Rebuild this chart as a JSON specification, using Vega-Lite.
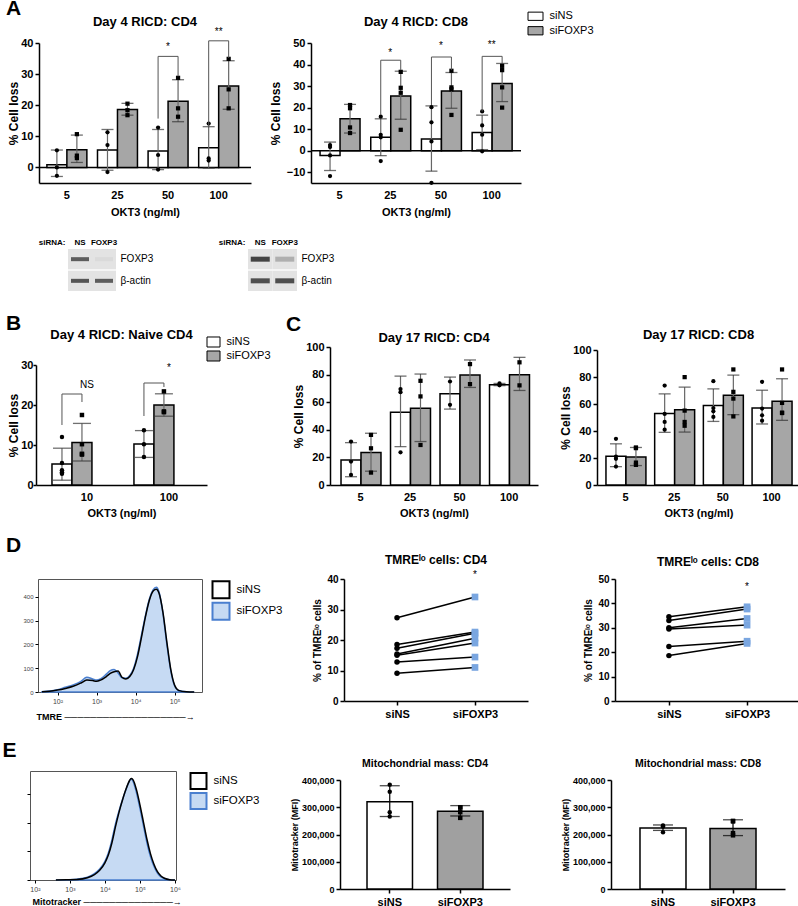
{
"$schema":"https://vega.github.io/schema/vega-lite/v6.json",
"padding":{"left":2,"top":-2,"right":0,"bottom":0},
"autosize":{"type":"pad"},
"config":{
 "font":"Liberation Sans",
 "view":{"stroke":null},
 "axis":{"domainColor":"#000","domainWidth":1.5,"tickColor":"#000","tickWidth":1.5,"tickSize":4,"labelColor":"#000","titleColor":"#000","labelFontWeight":"bold","titleFontWeight":"bold","grid":false,"labelFontSize":11,"titleFontSize":12,"labelOverlap":false},
 "title":{"color":"#000","fontWeight":"bold","fontSize":13,"baseline":"alphabetic"}
},
"datasets":{
"bar":[
{"p":"A4","d":"5","g":"siNS","m":0.9,"lo":-2.9,"hi":5.6},
{"p":"A4","d":"5","g":"siFOXP3","m":5.7,"lo":1.6,"hi":10.4},
{"p":"A4","d":"25","g":"siNS","m":5.6,"lo":-0.9,"hi":12.2},
{"p":"A4","d":"25","g":"siFOXP3","m":18.6,"lo":16.8,"hi":20.6},
{"p":"A4","d":"50","g":"siNS","m":5.3,"lo":-0.7,"hi":12.2},
{"p":"A4","d":"50","g":"siFOXP3","m":21.3,"lo":14.7,"hi":28.2},
{"p":"A4","d":"100","g":"siNS","m":6.3,"lo":-0.2,"hi":13.1},
{"p":"A4","d":"100","g":"siFOXP3","m":26.2,"lo":18.7,"hi":34.3},
{"p":"A8","d":"5","g":"siNS","m":-2.2,"lo":-9.2,"hi":4.0},
{"p":"A8","d":"5","g":"siFOXP3","m":14.8,"lo":8.2,"hi":21.5},
{"p":"A8","d":"25","g":"siNS","m":6.2,"lo":-2.3,"hi":14.8},
{"p":"A8","d":"25","g":"siFOXP3","m":25.4,"lo":14.6,"hi":36.9},
{"p":"A8","d":"50","g":"siNS","m":5.4,"lo":-9.5,"hi":20.8},
{"p":"A8","d":"50","g":"siFOXP3","m":27.7,"lo":19.7,"hi":36.3},
{"p":"A8","d":"100","g":"siNS","m":8.5,"lo":0.5,"hi":16.5},
{"p":"A8","d":"100","g":"siFOXP3","m":31.2,"lo":22.8,"hi":40.5},
{"p":"B","d":"10","g":"siNS","m":5.25,"lo":1.2,"hi":9.2},
{"p":"B","d":"10","g":"siFOXP3","m":10.6,"lo":6.0,"hi":15.4},
{"p":"B","d":"100","g":"siNS","m":10.25,"lo":6.9,"hi":13.6},
{"p":"B","d":"100","g":"siFOXP3","m":20.0,"lo":17.2,"hi":22.8},
{"p":"C4","d":"5","g":"siNS","m":18.2,"lo":6.0,"hi":30.7},
{"p":"C4","d":"5","g":"siFOXP3","m":23.5,"lo":10.0,"hi":37.5},
{"p":"C4","d":"25","g":"siNS","m":52.8,"lo":27.8,"hi":78.9},
{"p":"C4","d":"25","g":"siFOXP3","m":55.7,"lo":31.5,"hi":80.4},
{"p":"C4","d":"50","g":"siNS","m":66.1,"lo":55.0,"hi":78.2},
{"p":"C4","d":"50","g":"siFOXP3","m":79.7,"lo":70.7,"hi":90.6},
{"p":"C4","d":"100","g":"siNS","m":72.6,"lo":72.0,"hi":73.6},
{"p":"C4","d":"100","g":"siFOXP3","m":79.9,"lo":68.5,"hi":92.5},
{"p":"C8","d":"5","g":"siNS","m":21.3,"lo":13.6,"hi":30.5},
{"p":"C8","d":"5","g":"siFOXP3","m":20.8,"lo":14.4,"hi":27.8},
{"p":"C8","d":"25","g":"siNS","m":52.9,"lo":39.0,"hi":67.5},
{"p":"C8","d":"25","g":"siFOXP3","m":55.8,"lo":39.2,"hi":72.5},
{"p":"C8","d":"50","g":"siNS","m":58.8,"lo":47.1,"hi":71.2},
{"p":"C8","d":"50","g":"siFOXP3","m":66.5,"lo":52.1,"hi":81.4},
{"p":"C8","d":"100","g":"siNS","m":57.0,"lo":45.2,"hi":70.2},
{"p":"C8","d":"100","g":"siFOXP3","m":62.0,"lo":47.9,"hi":78.7},
{"p":"E4","g":"siNS","m":320000,"lo":266000,"hi":379000},
{"p":"E4","g":"siFOXP3","m":285000,"lo":268000,"hi":306000},
{"p":"E8","g":"siNS","m":224000,"lo":215000,"hi":235000},
{"p":"E8","g":"siFOXP3","m":222000,"lo":196000,"hi":254000}
],
"pt":[
{"p":"A4","d":"5","g":"siNS","v":5.5},{"p":"A4","d":"5","g":"siNS","v":0.0},{"p":"A4","d":"5","g":"siNS","v":-2.7},
{"p":"A4","d":"5","g":"siFOXP3","v":10.7},{"p":"A4","d":"5","g":"siFOXP3","v":3.0},{"p":"A4","d":"5","g":"siFOXP3","v":3.8},
{"p":"A4","d":"25","g":"siNS","v":11.3},{"p":"A4","d":"25","g":"siNS","v":7.2},{"p":"A4","d":"25","g":"siNS","v":-1.5},
{"p":"A4","d":"25","g":"siFOXP3","v":20.5},{"p":"A4","d":"25","g":"siFOXP3","v":18.4},{"p":"A4","d":"25","g":"siFOXP3","v":16.8},
{"p":"A4","d":"50","g":"siNS","v":12.8},{"p":"A4","d":"50","g":"siNS","v":4.0},{"p":"A4","d":"50","g":"siNS","v":-0.7},
{"p":"A4","d":"50","g":"siFOXP3","v":28.8},{"p":"A4","d":"50","g":"siFOXP3","v":19.0},{"p":"A4","d":"50","g":"siFOXP3","v":16.3},
{"p":"A4","d":"100","g":"siNS","v":14.1},{"p":"A4","d":"100","g":"siNS","v":2.2},{"p":"A4","d":"100","g":"siNS","v":2.9},
{"p":"A4","d":"100","g":"siFOXP3","v":34.9},{"p":"A4","d":"100","g":"siFOXP3","v":25.1},{"p":"A4","d":"100","g":"siFOXP3","v":19.0},
{"p":"A8","d":"5","g":"siNS","v":1.7},{"p":"A8","d":"5","g":"siNS","v":2.6},{"p":"A8","d":"5","g":"siNS","v":-2.2},{"p":"A8","d":"5","g":"siNS","v":-11.8},
{"p":"A8","d":"5","g":"siFOXP3","v":21.2},{"p":"A8","d":"5","g":"siFOXP3","v":19.7},{"p":"A8","d":"5","g":"siFOXP3","v":10.8},{"p":"A8","d":"5","g":"siFOXP3","v":8.2},
{"p":"A8","d":"25","g":"siNS","v":15.8},{"p":"A8","d":"25","g":"siNS","v":7.4},{"p":"A8","d":"25","g":"siNS","v":6.2},{"p":"A8","d":"25","g":"siNS","v":-4.8},
{"p":"A8","d":"25","g":"siFOXP3","v":36.6},{"p":"A8","d":"25","g":"siFOXP3","v":29.2},{"p":"A8","d":"25","g":"siFOXP3","v":26.9},{"p":"A8","d":"25","g":"siFOXP3","v":9.7},
{"p":"A8","d":"50","g":"siNS","v":20.2},{"p":"A8","d":"50","g":"siNS","v":13.2},{"p":"A8","d":"50","g":"siNS","v":4.3},{"p":"A8","d":"50","g":"siNS","v":-14.9},
{"p":"A8","d":"50","g":"siFOXP3","v":37.1},{"p":"A8","d":"50","g":"siFOXP3","v":29.4},{"p":"A8","d":"50","g":"siFOXP3","v":28.5},{"p":"A8","d":"50","g":"siFOXP3","v":16.6},
{"p":"A8","d":"100","g":"siNS","v":18.2},{"p":"A8","d":"100","g":"siNS","v":11.7},{"p":"A8","d":"100","g":"siNS","v":7.4},{"p":"A8","d":"100","g":"siNS","v":-0.3},
{"p":"A8","d":"100","g":"siFOXP3","v":39.4},{"p":"A8","d":"100","g":"siFOXP3","v":37.4},{"p":"A8","d":"100","g":"siFOXP3","v":29.4},{"p":"A8","d":"100","g":"siFOXP3","v":20.0},
{"p":"B","d":"10","g":"siNS","v":12.0},{"p":"B","d":"10","g":"siNS","v":5.5},{"p":"B","d":"10","g":"siNS","v":3.7},{"p":"B","d":"10","g":"siNS","v":2.8},{"p":"B","d":"10","g":"siNS","v":3.2},
{"p":"B","d":"10","g":"siFOXP3","v":17.5},{"p":"B","d":"10","g":"siFOXP3","v":10.2},{"p":"B","d":"10","g":"siFOXP3","v":7.6},{"p":"B","d":"10","g":"siFOXP3","v":7.8},
{"p":"B","d":"100","g":"siNS","v":13.7},{"p":"B","d":"100","g":"siNS","v":10.2},{"p":"B","d":"100","g":"siNS","v":7.0},
{"p":"B","d":"100","g":"siFOXP3","v":23.4},{"p":"B","d":"100","g":"siFOXP3","v":18.2},{"p":"B","d":"100","g":"siFOXP3","v":18.4},
{"p":"C4","d":"5","g":"siNS","v":31.5},{"p":"C4","d":"5","g":"siNS","v":17.0},{"p":"C4","d":"5","g":"siNS","v":7.3},
{"p":"C4","d":"5","g":"siFOXP3","v":36.3},{"p":"C4","d":"5","g":"siFOXP3","v":26.6},{"p":"C4","d":"5","g":"siFOXP3","v":9.0},
{"p":"C4","d":"25","g":"siNS","v":69.5},{"p":"C4","d":"25","g":"siNS","v":67.3},{"p":"C4","d":"25","g":"siNS","v":23.7},
{"p":"C4","d":"25","g":"siFOXP3","v":75.5},{"p":"C4","d":"25","g":"siFOXP3","v":64.2},{"p":"C4","d":"25","g":"siFOXP3","v":29.0},
{"p":"C4","d":"50","g":"siNS","v":75.0},{"p":"C4","d":"50","g":"siNS","v":58.1},
{"p":"C4","d":"50","g":"siFOXP3","v":87.6},{"p":"C4","d":"50","g":"siFOXP3","v":73.1},
{"p":"C4","d":"100","g":"siNS","v":72.2},{"p":"C4","d":"100","g":"siNS","v":73.6},
{"p":"C4","d":"100","g":"siFOXP3","v":88.9},{"p":"C4","d":"100","g":"siFOXP3","v":72.2},
{"p":"C8","d":"5","g":"siNS","v":34.2},{"p":"C8","d":"5","g":"siNS","v":21.1},{"p":"C8","d":"5","g":"siNS","v":19.4},{"p":"C8","d":"5","g":"siNS","v":13.7},
{"p":"C8","d":"5","g":"siFOXP3","v":27.3},{"p":"C8","d":"5","g":"siFOXP3","v":27.8},{"p":"C8","d":"5","g":"siFOXP3","v":16.6},{"p":"C8","d":"5","g":"siFOXP3","v":14.9},
{"p":"C8","d":"25","g":"siNS","v":73.7},{"p":"C8","d":"25","g":"siNS","v":52.6},{"p":"C8","d":"25","g":"siNS","v":46.7},{"p":"C8","d":"25","g":"siNS","v":41.0},
{"p":"C8","d":"25","g":"siFOXP3","v":79.9},{"p":"C8","d":"25","g":"siFOXP3","v":55.1},{"p":"C8","d":"25","g":"siFOXP3","v":46.7},{"p":"C8","d":"25","g":"siFOXP3","v":43.9},
{"p":"C8","d":"50","g":"siNS","v":76.9},{"p":"C8","d":"50","g":"siNS","v":57.0},{"p":"C8","d":"50","g":"siNS","v":54.6},{"p":"C8","d":"50","g":"siNS","v":50.4},
{"p":"C8","d":"50","g":"siFOXP3","v":85.6},{"p":"C8","d":"50","g":"siFOXP3","v":69.0},{"p":"C8","d":"50","g":"siFOXP3","v":64.0},{"p":"C8","d":"50","g":"siFOXP3","v":50.8},
{"p":"C8","d":"100","g":"siNS","v":76.4},{"p":"C8","d":"100","g":"siNS","v":56.6},{"p":"C8","d":"100","g":"siNS","v":51.6},{"p":"C8","d":"100","g":"siNS","v":47.6},
{"p":"C8","d":"100","g":"siFOXP3","v":85.6},{"p":"C8","d":"100","g":"siFOXP3","v":60.8},{"p":"C8","d":"100","g":"siFOXP3","v":53.3},{"p":"C8","d":"100","g":"siFOXP3","v":53.6},
{"p":"E4","g":"siNS","v":383000},{"p":"E4","g":"siNS","v":357000},{"p":"E4","g":"siNS","v":282000},{"p":"E4","g":"siNS","v":266000},
{"p":"E4","g":"siFOXP3","v":300000},{"p":"E4","g":"siFOXP3","v":299000},{"p":"E4","g":"siFOXP3","v":282000},{"p":"E4","g":"siFOXP3","v":261000},
{"p":"E8","g":"siNS","v":233000},{"p":"E8","g":"siNS","v":231000},{"p":"E8","g":"siNS","v":229000},{"p":"E8","g":"siNS","v":208000},
{"p":"E8","g":"siFOXP3","v":250000},{"p":"E8","g":"siFOXP3","v":248000},{"p":"E8","g":"siFOXP3","v":197000},{"p":"E8","g":"siFOXP3","v":205000}
],
"br":[
{"p":"A4","d":"50","g":"siNS","v":15.7,"b":1,"o":1},{"p":"A4","d":"50","g":"siNS","v":35.7,"b":1,"o":2},{"p":"A4","d":"50","g":"siFOXP3","v":35.7,"b":1,"o":3},{"p":"A4","d":"50","g":"siFOXP3","v":29.3,"b":1,"o":4},
{"p":"A4","d":"100","g":"siNS","v":12.9,"b":2,"o":1},{"p":"A4","d":"100","g":"siNS","v":40.7,"b":2,"o":2},{"p":"A4","d":"100","g":"siFOXP3","v":40.7,"b":2,"o":3},{"p":"A4","d":"100","g":"siFOXP3","v":35.2,"b":2,"o":4},
{"p":"A8","d":"25","g":"siNS","v":16.6,"b":3,"o":1},{"p":"A8","d":"25","g":"siNS","v":42.0,"b":3,"o":2},{"p":"A8","d":"25","g":"siFOXP3","v":42.0,"b":3,"o":3},{"p":"A8","d":"25","g":"siFOXP3","v":37.4,"b":3,"o":4},
{"p":"A8","d":"50","g":"siNS","v":21.2,"b":4,"o":1},{"p":"A8","d":"50","g":"siNS","v":43.5,"b":4,"o":2},{"p":"A8","d":"50","g":"siFOXP3","v":43.5,"b":4,"o":3},{"p":"A8","d":"50","g":"siFOXP3","v":37.4,"b":4,"o":4},
{"p":"A8","d":"100","g":"siNS","v":18.2,"b":5,"o":1},{"p":"A8","d":"100","g":"siNS","v":43.8,"b":5,"o":2},{"p":"A8","d":"100","g":"siFOXP3","v":43.8,"b":5,"o":3},{"p":"A8","d":"100","g":"siFOXP3","v":40.5,"b":5,"o":4},
{"p":"B","d":"10","g":"siNS","v":15.0,"b":6,"o":1},{"p":"B","d":"10","g":"siNS","v":22.75,"b":6,"o":2},{"p":"B","d":"10","g":"siFOXP3","v":22.75,"b":6,"o":3},{"p":"B","d":"10","g":"siFOXP3","v":20.75,"b":6,"o":4},
{"p":"B","d":"100","g":"siNS","v":17.25,"b":7,"o":1},{"p":"B","d":"100","g":"siNS","v":25.5,"b":7,"o":2},{"p":"B","d":"100","g":"siFOXP3","v":25.5,"b":7,"o":3},{"p":"B","d":"100","g":"siFOXP3","v":24.5,"b":7,"o":4}
],
"st":[
{"p":"A4","d":"50","v":38.6,"t":"*"},{"p":"A4","d":"100","v":43.4,"t":"**"},
{"p":"A8","d":"25","v":45.5,"t":"*"},{"p":"A8","d":"50","v":48.6,"t":"*"},{"p":"A8","d":"100","v":48.9,"t":"**"},
{"p":"B","d":"10","v":25.0,"t":"NS"},{"p":"B","d":"100","v":29.3,"t":"*"},
{"p":"D4","g":"siFOXP3","v":41.3,"t":"*"},{"p":"D8","g":"siFOXP3","v":46.7,"t":"*"}
],
"pair":[
{"p":"D4","id":1,"g":"siNS","v":27.3},{"p":"D4","id":1,"g":"siFOXP3","v":34.1},
{"p":"D4","id":2,"g":"siNS","v":18.5},{"p":"D4","id":2,"g":"siFOXP3","v":22.6},
{"p":"D4","id":3,"g":"siNS","v":17.3},{"p":"D4","id":3,"g":"siFOXP3","v":22.2},
{"p":"D4","id":4,"g":"siNS","v":15.4},{"p":"D4","id":4,"g":"siFOXP3","v":20.6},
{"p":"D4","id":5,"g":"siNS","v":15.0},{"p":"D4","id":5,"g":"siFOXP3","v":19.0},
{"p":"D4","id":6,"g":"siNS","v":12.8},{"p":"D4","id":6,"g":"siFOXP3","v":14.4},
{"p":"D4","id":7,"g":"siNS","v":9.1},{"p":"D4","id":7,"g":"siFOXP3","v":11.0},
{"p":"D8","id":1,"g":"siNS","v":34.5},{"p":"D8","id":1,"g":"siFOXP3","v":38.6},
{"p":"D8","id":2,"g":"siNS","v":33.0},{"p":"D8","id":2,"g":"siFOXP3","v":37.7},
{"p":"D8","id":3,"g":"siNS","v":30.0},{"p":"D8","id":3,"g":"siFOXP3","v":33.8},
{"p":"D8","id":4,"g":"siNS","v":29.5},{"p":"D8","id":4,"g":"siFOXP3","v":31.1},
{"p":"D8","id":5,"g":"siNS","v":22.3},{"p":"D8","id":5,"g":"siFOXP3","v":24.5},
{"p":"D8","id":6,"g":"siNS","v":18.6},{"p":"D8","id":6,"g":"siFOXP3","v":23.6}
],
"leg":[{"g":"siNS"},{"g":"siFOXP3"}],
"hist":[
{"p":"D","g":"siFOXP3","x":40,"y":1},{"p":"D","g":"siFOXP3","x":63,"y":4},{"p":"D","g":"siFOXP3","x":100,"y":10},{"p":"D","g":"siFOXP3","x":158,"y":20},{"p":"D","g":"siFOXP3","x":251,"y":30},{"p":"D","g":"siFOXP3","x":398,"y":45},{"p":"D","g":"siFOXP3","x":562,"y":62},{"p":"D","g":"siFOXP3","x":794,"y":55},{"p":"D","g":"siFOXP3","x":1000,"y":50},{"p":"D","g":"siFOXP3","x":1259,"y":55},{"p":"D","g":"siFOXP3","x":1778,"y":75},{"p":"D","g":"siFOXP3","x":2239,"y":90},{"p":"D","g":"siFOXP3","x":2818,"y":95},{"p":"D","g":"siFOXP3","x":3548,"y":80},{"p":"D","g":"siFOXP3","x":4467,"y":60},{"p":"D","g":"siFOXP3","x":5623,"y":58},{"p":"D","g":"siFOXP3","x":7079,"y":70},{"p":"D","g":"siFOXP3","x":8913,"y":100},{"p":"D","g":"siFOXP3","x":11220,"y":160},{"p":"D","g":"siFOXP3","x":14125,"y":240},{"p":"D","g":"siFOXP3","x":17783,"y":320},{"p":"D","g":"siFOXP3","x":22387,"y":390},{"p":"D","g":"siFOXP3","x":28184,"y":430},{"p":"D","g":"siFOXP3","x":33884,"y":440},{"p":"D","g":"siFOXP3","x":39811,"y":420},{"p":"D","g":"siFOXP3","x":50119,"y":330},{"p":"D","g":"siFOXP3","x":63096,"y":200},{"p":"D","g":"siFOXP3","x":79433,"y":90},{"p":"D","g":"siFOXP3","x":100000,"y":25},{"p":"D","g":"siFOXP3","x":125893,"y":6},{"p":"D","g":"siFOXP3","x":199526,"y":1},{"p":"D","g":"siFOXP3","x":316228,"y":0},
{"p":"D","g":"siNS","x":40,"y":1},{"p":"D","g":"siNS","x":63,"y":3},{"p":"D","g":"siNS","x":100,"y":8},{"p":"D","g":"siNS","x":158,"y":15},{"p":"D","g":"siNS","x":251,"y":24},{"p":"D","g":"siNS","x":398,"y":38},{"p":"D","g":"siNS","x":562,"y":50},{"p":"D","g":"siNS","x":794,"y":48},{"p":"D","g":"siNS","x":1000,"y":45},{"p":"D","g":"siNS","x":1259,"y":50},{"p":"D","g":"siNS","x":1778,"y":65},{"p":"D","g":"siNS","x":2239,"y":78},{"p":"D","g":"siNS","x":2818,"y":85},{"p":"D","g":"siNS","x":3548,"y":88},{"p":"D","g":"siNS","x":4467,"y":62},{"p":"D","g":"siNS","x":5623,"y":55},{"p":"D","g":"siNS","x":7079,"y":65},{"p":"D","g":"siNS","x":8913,"y":95},{"p":"D","g":"siNS","x":11220,"y":150},{"p":"D","g":"siNS","x":14125,"y":230},{"p":"D","g":"siNS","x":17783,"y":315},{"p":"D","g":"siNS","x":22387,"y":385},{"p":"D","g":"siNS","x":28184,"y":425},{"p":"D","g":"siNS","x":33884,"y":432},{"p":"D","g":"siNS","x":39811,"y":415},{"p":"D","g":"siNS","x":50119,"y":335},{"p":"D","g":"siNS","x":63096,"y":210},{"p":"D","g":"siNS","x":79433,"y":95},{"p":"D","g":"siNS","x":100000,"y":28},{"p":"D","g":"siNS","x":125893,"y":7},{"p":"D","g":"siNS","x":199526,"y":1},{"p":"D","g":"siNS","x":316228,"y":0},
{"p":"E","g":"siFOXP3","x":398,"y":0},{"p":"E","g":"siFOXP3","x":794,"y":1},{"p":"E","g":"siFOXP3","x":1585,"y":3},{"p":"E","g":"siFOXP3","x":3162,"y":10},{"p":"E","g":"siFOXP3","x":5012,"y":22},{"p":"E","g":"siFOXP3","x":7079,"y":38},{"p":"E","g":"siFOXP3","x":10000,"y":65},{"p":"E","g":"siFOXP3","x":12589,"y":95},{"p":"E","g":"siFOXP3","x":15849,"y":140},{"p":"E","g":"siFOXP3","x":19953,"y":195},{"p":"E","g":"siFOXP3","x":25119,"y":240},{"p":"E","g":"siFOXP3","x":31623,"y":280},{"p":"E","g":"siFOXP3","x":39811,"y":315},{"p":"E","g":"siFOXP3","x":50119,"y":345},{"p":"E","g":"siFOXP3","x":56234,"y":352},{"p":"E","g":"siFOXP3","x":63096,"y":345},{"p":"E","g":"siFOXP3","x":79433,"y":305},{"p":"E","g":"siFOXP3","x":100000,"y":250},{"p":"E","g":"siFOXP3","x":125893,"y":190},{"p":"E","g":"siFOXP3","x":158489,"y":130},{"p":"E","g":"siFOXP3","x":199526,"y":82},{"p":"E","g":"siFOXP3","x":251189,"y":48},{"p":"E","g":"siFOXP3","x":316228,"y":24},{"p":"E","g":"siFOXP3","x":398107,"y":11},{"p":"E","g":"siFOXP3","x":501187,"y":5},{"p":"E","g":"siFOXP3","x":707946,"y":1},{"p":"E","g":"siFOXP3","x":1000000,"y":0},
{"p":"E","g":"siNS","x":398,"y":0},{"p":"E","g":"siNS","x":794,"y":1},{"p":"E","g":"siNS","x":1585,"y":2},{"p":"E","g":"siNS","x":3162,"y":8},{"p":"E","g":"siNS","x":5012,"y":19},{"p":"E","g":"siNS","x":7079,"y":34},{"p":"E","g":"siNS","x":10000,"y":60},{"p":"E","g":"siNS","x":12589,"y":88},{"p":"E","g":"siNS","x":15849,"y":130},{"p":"E","g":"siNS","x":19953,"y":185},{"p":"E","g":"siNS","x":25119,"y":235},{"p":"E","g":"siNS","x":31623,"y":278},{"p":"E","g":"siNS","x":39811,"y":316},{"p":"E","g":"siNS","x":50119,"y":346},{"p":"E","g":"siNS","x":56234,"y":354},{"p":"E","g":"siNS","x":63096,"y":350},{"p":"E","g":"siNS","x":79433,"y":315},{"p":"E","g":"siNS","x":100000,"y":262},{"p":"E","g":"siNS","x":125893,"y":202},{"p":"E","g":"siNS","x":158489,"y":142},{"p":"E","g":"siNS","x":199526,"y":92},{"p":"E","g":"siNS","x":251189,"y":55},{"p":"E","g":"siNS","x":316228,"y":29},{"p":"E","g":"siNS","x":398107,"y":14},{"p":"E","g":"siNS","x":501187,"y":6},{"p":"E","g":"siNS","x":707946,"y":1},{"p":"E","g":"siNS","x":1000000,"y":0}
],
"blot":[
{"b":1,"lane":"NS","prot":"FOXP3","i":0.85},{"b":1,"lane":"FOXP3","prot":"FOXP3","i":0.05},
{"b":1,"lane":"NS","prot":"β-actin","i":0.9},{"b":1,"lane":"FOXP3","prot":"β-actin","i":0.85},
{"b":2,"lane":"NS","prot":"FOXP3","i":1.0},{"b":2,"lane":"FOXP3","prot":"FOXP3","i":0.3},
{"b":2,"lane":"NS","prot":"β-actin","i":0.95},{"b":2,"lane":"FOXP3","prot":"β-actin","i":0.95}
]
},
"resolve":{"scale":{"fill":"independent","stroke":"independent","shape":"independent","color":"independent"}},
"concat":[
{"resolve":{"scale":{"fill":"independent","stroke":"independent","shape":"independent","color":"independent"}},
 "concat":[
 {"width":9,"height":229,"data":{"values":[]},"mark":{"type":"point","opacity":0},"title":{"text":"A","anchor":"start","dx":-24,"fontSize":21,"offset":-10}},
 {"width":212,"height":174,"title":{"text":"Day 4 RICD: CD4","offset":-20},
  "layer":[
   {"data":{"values":[{}]},"mark":{"type":"rule","color":"#000","strokeWidth":1.5},"encoding":{"y":{"datum":0,"type":"quantitative","title":"% Cell loss"}}},
   {"data":{"name":"bar"},"transform":[{"filter":"datum.p==='A4'"}],"mark":{"type":"bar","stroke":"#000","strokeWidth":1.5},
    "encoding":{"x":{"field":"d","type":"nominal","title":"OKT3 (ng/ml)","scale":{"domain":["5","25","50","100"],"paddingInner":0.21,"paddingOuter":0.2,"align":0.39},"axis":{"ticks":false,"labelAngle":0,"labelPadding":6,"titlePadding":6,"titleFontSize":11}},
     "xOffset":{"field":"g","type":"nominal","scale":{"domain":["siNS","siFOXP3"],"paddingInner":0,"paddingOuter":0}},
     "y":{"field":"m","type":"quantitative","title":"% Cell loss","scale":{"domain":[-5,40],"range":[174,34],"nice":false},"axis":{"values":[0,10,20,30,40],"tickCount":20,"labelOverlap":false,"titlePadding":0}},
     "fill":{"field":"g","type":"nominal","scale":{"domain":["siNS","siFOXP3"],"range":["#ffffff","#a6a6a6"]},"legend":null}}},
   {"data":{"name":"bar"},"transform":[{"filter":"datum.p==='A4'"}],"mark":{"type":"rule","color":"#666","strokeWidth":1.2},
    "encoding":{"x":{"field":"d","type":"nominal","title":"OKT3 (ng/ml)"},"xOffset":{"field":"g","type":"nominal"},"y":{"field":"lo","type":"quantitative","title":"% Cell loss"},"y2":{"field":"hi"}}},
   {"data":{"name":"bar"},"transform":[{"filter":"datum.p==='A4'"}],"mark":{"type":"tick","color":"#333","thickness":1.3,"size":12,"orient":"horizontal"},
    "encoding":{"x":{"field":"d","type":"nominal","title":"OKT3 (ng/ml)"},"xOffset":{"field":"g","type":"nominal"},"y":{"field":"lo","type":"quantitative","title":"% Cell loss"}}},
   {"data":{"name":"bar"},"transform":[{"filter":"datum.p==='A4'"}],"mark":{"type":"tick","color":"#333","thickness":1.3,"size":12,"orient":"horizontal"},
    "encoding":{"x":{"field":"d","type":"nominal","title":"OKT3 (ng/ml)"},"xOffset":{"field":"g","type":"nominal"},"y":{"field":"hi","type":"quantitative","title":"% Cell loss"}}},
   {"data":{"name":"pt"},"transform":[{"filter":"datum.p==='A4'"}],"mark":{"type":"point","filled":true,"color":"#000","size":18,"opacity":1},
    "encoding":{"x":{"field":"d","type":"nominal","title":"OKT3 (ng/ml)"},"xOffset":{"field":"g","type":"nominal"},"y":{"field":"v","type":"quantitative","title":"% Cell loss"},"shape":{"field":"g","type":"nominal","scale":{"domain":["siNS","siFOXP3"],"range":["circle","square"]},"legend":null}}},
   {"data":{"name":"br"},"transform":[{"filter":"datum.p==='A4'"}],"mark":{"type":"line","color":"#555","strokeWidth":1},
    "encoding":{"x":{"field":"d","type":"nominal","title":"OKT3 (ng/ml)"},"xOffset":{"field":"g","type":"nominal"},"y":{"field":"v","type":"quantitative","title":"% Cell loss"},"detail":{"field":"b","type":"nominal"},"order":{"field":"o","type":"quantitative"}}},
   {"data":{"name":"st"},"transform":[{"filter":"datum.p==='A4'"}],"mark":{"type":"text","fontSize":10,"color":"#000"},
    "encoding":{"x":{"field":"d","type":"nominal","title":"OKT3 (ng/ml)"},"y":{"field":"v","type":"quantitative","title":"% Cell loss"},"text":{"field":"t","type":"nominal"}}}
  ]},
 {"width":60,"height":1,"data":{"values":[]},"mark":{"type":"point","opacity":0}},
 {"width":210,"height":174,"title":{"text":"Day 4 RICD: CD8","offset":-19.5},
  "layer":[
   {"data":{"values":[{}]},"mark":{"type":"rule","color":"#000","strokeWidth":1.5},"encoding":{"y":{"datum":0,"type":"quantitative","title":"% Cell loss"}}},
   {"data":{"name":"bar"},"transform":[{"filter":"datum.p==='A8'"}],"mark":{"type":"bar","stroke":"#000","strokeWidth":1.5},
    "encoding":{"x":{"field":"d","type":"nominal","title":"OKT3 (ng/ml)","scale":{"domain":["5","25","50","100"],"paddingInner":0.23,"paddingOuter":0.186,"align":0.48},"axis":{"ticks":false,"labelAngle":0,"labelPadding":6,"titlePadding":6,"titleFontSize":11}},
     "xOffset":{"field":"g","type":"nominal","scale":{"domain":["siNS","siFOXP3"],"paddingInner":0,"paddingOuter":0}},
     "y":{"field":"m","type":"quantitative","title":"% Cell loss","scale":{"domain":[-15,50],"range":[174,34],"nice":false},"axis":{"values":[-10,0,10,20,30,40,50],"tickCount":20,"labelOverlap":false}},
     "fill":{"field":"g","type":"nominal","scale":{"domain":["siNS","siFOXP3"],"range":["#ffffff","#a6a6a6"]},"legend":null}}},
   {"data":{"name":"bar"},"transform":[{"filter":"datum.p==='A8'"}],"mark":{"type":"rule","color":"#666","strokeWidth":1.2},
    "encoding":{"x":{"field":"d","type":"nominal","title":"OKT3 (ng/ml)"},"xOffset":{"field":"g","type":"nominal"},"y":{"field":"lo","type":"quantitative","title":"% Cell loss"},"y2":{"field":"hi"}}},
   {"data":{"name":"bar"},"transform":[{"filter":"datum.p==='A8'"}],"mark":{"type":"tick","color":"#333","thickness":1.3,"size":12,"orient":"horizontal"},
    "encoding":{"x":{"field":"d","type":"nominal","title":"OKT3 (ng/ml)"},"xOffset":{"field":"g","type":"nominal"},"y":{"field":"lo","type":"quantitative","title":"% Cell loss"}}},
   {"data":{"name":"bar"},"transform":[{"filter":"datum.p==='A8'"}],"mark":{"type":"tick","color":"#333","thickness":1.3,"size":12,"orient":"horizontal"},
    "encoding":{"x":{"field":"d","type":"nominal","title":"OKT3 (ng/ml)"},"xOffset":{"field":"g","type":"nominal"},"y":{"field":"hi","type":"quantitative","title":"% Cell loss"}}},
   {"data":{"name":"pt"},"transform":[{"filter":"datum.p==='A8'"}],"mark":{"type":"point","filled":true,"color":"#000","size":18,"opacity":1},
    "encoding":{"x":{"field":"d","type":"nominal","title":"OKT3 (ng/ml)"},"xOffset":{"field":"g","type":"nominal"},"y":{"field":"v","type":"quantitative","title":"% Cell loss"},"shape":{"field":"g","type":"nominal","scale":{"domain":["siNS","siFOXP3"],"range":["circle","square"]},"legend":null}}},
   {"data":{"name":"br"},"transform":[{"filter":"datum.p==='A8'"}],"mark":{"type":"line","color":"#555","strokeWidth":1},
    "encoding":{"x":{"field":"d","type":"nominal","title":"OKT3 (ng/ml)"},"xOffset":{"field":"g","type":"nominal"},"y":{"field":"v","type":"quantitative","title":"% Cell loss"},"detail":{"field":"b","type":"nominal"},"order":{"field":"o","type":"quantitative"}}},
   {"data":{"name":"st"},"transform":[{"filter":"datum.p==='A8'"}],"mark":{"type":"text","fontSize":10,"color":"#000"},
    "encoding":{"x":{"field":"d","type":"nominal","title":"OKT3 (ng/ml)"},"y":{"field":"v","type":"quantitative","title":"% Cell loss"},"text":{"field":"t","type":"nominal"}}}
  ]},
 {"width":7,"height":1,"data":{"values":[]},"mark":{"type":"point","opacity":0}},
 {"width":15,"height":29,"data":{"name":"leg"},"mark":{"type":"point","shape":"M-1,-0.55H1V0.55H-1Z","size":225,"stroke":"#000","strokeWidth":1,"filled":true,"opacity":1},
  "encoding":{"y":{"field":"g","type":"nominal","scale":{"type":"band","domain":["siNS","siFOXP3"],"paddingInner":0,"paddingOuter":0},"axis":{"orient":"right","title":null,"domain":false,"ticks":false,"labelPadding":6,"labelFontWeight":"normal","labelFontSize":11}},
   "fill":{"field":"g","type":"nominal","scale":{"domain":["siNS","siFOXP3"],"range":["#ffffff","#a6a6a6"]},"legend":null}}}
],"columns":6,"spacing":0,"bounds":"flush","align":"each"},
{"concat":[
 {"width":38,"height":64,"data":{"values":[]},"mark":{"type":"point","opacity":0}},
 {"width":48,"height":42,"data":{"name":"blot"},"transform":[{"filter":"datum.b===1"}],
  "encoding":{"x":{"field":"lane","type":"nominal","title":"siRNA:","scale":{"domain":["NS","FOXP3"],"paddingInner":0,"paddingOuter":0},"axis":{"orient":"top","domain":false,"ticks":false,"labelAngle":0,"labelFontSize":8,"labelPadding":3,"titleFontSize":8,"titleX":-3,"titleY":-5,"titleAlign":"right","titleBaseline":"alphabetic"}},
   "y":{"field":"prot","type":"nominal","title":null,"scale":{"domain":["FOXP3","β-actin"],"paddingInner":0.06,"paddingOuter":0},"axis":{"orient":"right","domain":false,"ticks":false,"labelFontSize":10,"labelFontWeight":"normal","labelPadding":4}}},
  "layer":[
   {"mark":{"type":"rect","color":"#e3e3e3"}},
   {"mark":{"type":"tick","orient":"horizontal","thickness":4,"size":18},"encoding":{"color":{"field":"i","type":"quantitative","scale":{"domain":[0,1],"range":["#e3e3e3","#000000"]},"legend":null}}}
  ]},
 {"width":132,"height":1,"data":{"values":[]},"mark":{"type":"point","opacity":0}},
 {"width":49,"height":42,"data":{"name":"blot"},"transform":[{"filter":"datum.b===2"}],
  "encoding":{"x":{"field":"lane","type":"nominal","title":"siRNA:","scale":{"domain":["NS","FOXP3"],"paddingInner":0,"paddingOuter":0},"axis":{"orient":"top","domain":false,"ticks":false,"labelAngle":0,"labelFontSize":8,"labelPadding":3,"titleFontSize":8,"titleX":-3,"titleY":-5,"titleAlign":"right","titleBaseline":"alphabetic"}},
   "y":{"field":"prot","type":"nominal","title":null,"scale":{"domain":["FOXP3","β-actin"],"paddingInner":0.06,"paddingOuter":0},"axis":{"orient":"right","domain":false,"ticks":false,"labelFontSize":10,"labelFontWeight":"normal","labelPadding":4}}},
  "layer":[
   {"mark":{"type":"rect","color":"#e3e3e3"}},
   {"mark":{"type":"tick","orient":"horizontal","thickness":5,"size":19},"encoding":{"color":{"field":"i","type":"quantitative","scale":{"domain":[0,1],"range":["#e3e3e3","#000000"]},"legend":null}}}
  ]}
],"columns":4,"spacing":0,"bounds":"flush","align":"each"},
{"resolve":{"scale":{"fill":"independent","stroke":"independent","shape":"independent","color":"independent"}},
 "concat":[
 {"width":6,"height":200,"data":{"values":[]},"mark":{"type":"point","opacity":0},"title":{"text":"B","anchor":"start","dx":-24,"fontSize":21,"offset":1}},
 {"width":171,"height":150,"title":{"text":"Day 4 RICD: Naive CD4","offset":-6.5},
  "layer":[
   {"data":{"name":"bar"},"transform":[{"filter":"datum.p==='B'"}],"mark":{"type":"bar","stroke":"#000","strokeWidth":1.5},
    "encoding":{"x":{"field":"d","type":"nominal","title":"OKT3 (ng/ml)","scale":{"domain":["10","100"],"paddingInner":0.146,"paddingOuter":0.116,"align":0.84},"axis":{"ticks":false,"labelAngle":0,"labelPadding":6,"titlePadding":5,"titleFontSize":11}},
     "xOffset":{"field":"g","type":"nominal","scale":{"domain":["siNS","siFOXP3"],"paddingInner":0,"paddingOuter":0}},
     "y":{"field":"m","type":"quantitative","title":"% Cell loss","scale":{"domain":[0,30],"range":[150,30],"nice":false},"axis":{"values":[0,10,20,30],"tickCount":20,"labelOverlap":false,"titlePadding":0,"labelPadding":0,"tickSize":3}},
     "fill":{"field":"g","type":"nominal","scale":{"domain":["siNS","siFOXP3"],"range":["#ffffff","#a6a6a6"]},"legend":null}}},
   {"data":{"name":"bar"},"transform":[{"filter":"datum.p==='B'"}],"mark":{"type":"rule","color":"#666","strokeWidth":1.2},
    "encoding":{"x":{"field":"d","type":"nominal","title":"OKT3 (ng/ml)"},"xOffset":{"field":"g","type":"nominal"},"y":{"field":"lo","type":"quantitative","title":"% Cell loss"},"y2":{"field":"hi"}}},
   {"data":{"name":"bar"},"transform":[{"filter":"datum.p==='B'"}],"mark":{"type":"tick","color":"#333","thickness":1.3,"size":18,"orient":"horizontal"},
    "encoding":{"x":{"field":"d","type":"nominal","title":"OKT3 (ng/ml)"},"xOffset":{"field":"g","type":"nominal"},"y":{"field":"lo","type":"quantitative","title":"% Cell loss"}}},
   {"data":{"name":"bar"},"transform":[{"filter":"datum.p==='B'"}],"mark":{"type":"tick","color":"#333","thickness":1.3,"size":18,"orient":"horizontal"},
    "encoding":{"x":{"field":"d","type":"nominal","title":"OKT3 (ng/ml)"},"xOffset":{"field":"g","type":"nominal"},"y":{"field":"hi","type":"quantitative","title":"% Cell loss"}}},
   {"data":{"name":"pt"},"transform":[{"filter":"datum.p==='B'"}],"mark":{"type":"point","filled":true,"color":"#000","size":20,"opacity":1},
    "encoding":{"x":{"field":"d","type":"nominal","title":"OKT3 (ng/ml)"},"xOffset":{"field":"g","type":"nominal"},"y":{"field":"v","type":"quantitative","title":"% Cell loss"},"shape":{"field":"g","type":"nominal","scale":{"domain":["siNS","siFOXP3"],"range":["circle","square"]},"legend":null}}},
   {"data":{"name":"br"},"transform":[{"filter":"datum.p==='B'"}],"mark":{"type":"line","color":"#555","strokeWidth":1},
    "encoding":{"x":{"field":"d","type":"nominal","title":"OKT3 (ng/ml)"},"xOffset":{"field":"g","type":"nominal"},"y":{"field":"v","type":"quantitative","title":"% Cell loss"},"detail":{"field":"b","type":"nominal"},"order":{"field":"o","type":"quantitative"}}},
   {"data":{"name":"st"},"transform":[{"filter":"datum.p==='B'"}],"mark":{"type":"text","fontSize":10,"color":"#000"},
    "encoding":{"x":{"field":"d","type":"nominal","title":"OKT3 (ng/ml)"},"y":{"field":"v","type":"quantitative","title":"% Cell loss"},"text":{"field":"t","type":"nominal"}}}
  ]},
 {"width":13,"height":28,"data":{"name":"leg"},"mark":{"type":"point","shape":"M-1,-0.77H1V0.77H-1Z","size":169,"stroke":"#000","strokeWidth":1,"filled":true,"opacity":1},
  "encoding":{"y":{"field":"g","type":"nominal","scale":{"type":"band","domain":["siNS","siFOXP3"],"paddingInner":0,"paddingOuter":0},"axis":{"orient":"right","title":null,"domain":false,"ticks":false,"labelPadding":6,"labelFontWeight":"normal","labelFontSize":11}},
   "fill":{"field":"g","type":"nominal","scale":{"domain":["siNS","siFOXP3"],"range":["#ffffff","#a6a6a6"]},"legend":null}}},
 {"width":110,"height":1,"data":{"values":[]},"mark":{"type":"point","opacity":0},"title":{"text":"C","anchor":"start","dx":66,"fontSize":21,"offset":0}},
 {"width":208,"height":150,"title":{"text":"Day 17 RICD: CD4","offset":-9.5},
  "layer":[
   {"data":{"name":"bar"},"transform":[{"filter":"datum.p==='C4'"}],"mark":{"type":"bar","stroke":"#000","strokeWidth":1.5},
    "encoding":{"x":{"field":"d","type":"nominal","title":"OKT3 (ng/ml)","scale":{"domain":["5","25","50","100"],"paddingInner":0.21,"paddingOuter":0.206,"align":0.54},"axis":{"ticks":false,"labelAngle":0,"labelPadding":6,"titlePadding":5,"titleFontSize":11}},
     "xOffset":{"field":"g","type":"nominal","scale":{"domain":["siNS","siFOXP3"],"paddingInner":0,"paddingOuter":0}},
     "y":{"field":"m","type":"quantitative","title":"% Cell loss","scale":{"domain":[0,100],"range":[150,12],"nice":false},"axis":{"values":[0,20,40,60,80,100],"tickCount":20,"labelOverlap":false,"titlePadding":0}},
     "fill":{"field":"g","type":"nominal","scale":{"domain":["siNS","siFOXP3"],"range":["#ffffff","#a6a6a6"]},"legend":null}}},
   {"data":{"name":"bar"},"transform":[{"filter":"datum.p==='C4'"}],"mark":{"type":"rule","color":"#666","strokeWidth":1.2},
    "encoding":{"x":{"field":"d","type":"nominal","title":"OKT3 (ng/ml)"},"xOffset":{"field":"g","type":"nominal"},"y":{"field":"lo","type":"quantitative","title":"% Cell loss"},"y2":{"field":"hi"}}},
   {"data":{"name":"bar"},"transform":[{"filter":"datum.p==='C4'"}],"mark":{"type":"tick","color":"#333","thickness":1.3,"size":12,"orient":"horizontal"},
    "encoding":{"x":{"field":"d","type":"nominal","title":"OKT3 (ng/ml)"},"xOffset":{"field":"g","type":"nominal"},"y":{"field":"lo","type":"quantitative","title":"% Cell loss"}}},
   {"data":{"name":"bar"},"transform":[{"filter":"datum.p==='C4'"}],"mark":{"type":"tick","color":"#333","thickness":1.3,"size":12,"orient":"horizontal"},
    "encoding":{"x":{"field":"d","type":"nominal","title":"OKT3 (ng/ml)"},"xOffset":{"field":"g","type":"nominal"},"y":{"field":"hi","type":"quantitative","title":"% Cell loss"}}},
   {"data":{"name":"pt"},"transform":[{"filter":"datum.p==='C4'"}],"mark":{"type":"point","filled":true,"color":"#000","size":18,"opacity":1},
    "encoding":{"x":{"field":"d","type":"nominal","title":"OKT3 (ng/ml)"},"xOffset":{"field":"g","type":"nominal"},"y":{"field":"v","type":"quantitative","title":"% Cell loss"},"shape":{"field":"g","type":"nominal","scale":{"domain":["siNS","siFOXP3"],"range":["circle","square"]},"legend":null}}}
  ]},
 {"width":59,"height":1,"data":{"values":[]},"mark":{"type":"point","opacity":0}},
 {"width":203,"height":150,"title":{"text":"Day 17 RICD: CD8","offset":-6.5},
  "layer":[
   {"data":{"name":"bar"},"transform":[{"filter":"datum.p==='C8'"}],"mark":{"type":"bar","stroke":"#000","strokeWidth":1.5},
    "encoding":{"x":{"field":"d","type":"nominal","title":"OKT3 (ng/ml)","scale":{"domain":["5","25","50","100"],"paddingInner":0.2,"paddingOuter":0.184,"align":0.5},"axis":{"ticks":false,"labelAngle":0,"labelPadding":6,"titlePadding":5,"titleFontSize":11}},
     "xOffset":{"field":"g","type":"nominal","scale":{"domain":["siNS","siFOXP3"],"paddingInner":0,"paddingOuter":0}},
     "y":{"field":"m","type":"quantitative","title":"% Cell loss","scale":{"domain":[0,100],"range":[150,15],"nice":false},"axis":{"values":[0,20,40,60,80,100],"tickCount":20,"labelOverlap":false,"titlePadding":0}},
     "fill":{"field":"g","type":"nominal","scale":{"domain":["siNS","siFOXP3"],"range":["#ffffff","#a6a6a6"]},"legend":null}}},
   {"data":{"name":"bar"},"transform":[{"filter":"datum.p==='C8'"}],"mark":{"type":"rule","color":"#666","strokeWidth":1.2},
    "encoding":{"x":{"field":"d","type":"nominal","title":"OKT3 (ng/ml)"},"xOffset":{"field":"g","type":"nominal"},"y":{"field":"lo","type":"quantitative","title":"% Cell loss"},"y2":{"field":"hi"}}},
   {"data":{"name":"bar"},"transform":[{"filter":"datum.p==='C8'"}],"mark":{"type":"tick","color":"#333","thickness":1.3,"size":12,"orient":"horizontal"},
    "encoding":{"x":{"field":"d","type":"nominal","title":"OKT3 (ng/ml)"},"xOffset":{"field":"g","type":"nominal"},"y":{"field":"lo","type":"quantitative","title":"% Cell loss"}}},
   {"data":{"name":"bar"},"transform":[{"filter":"datum.p==='C8'"}],"mark":{"type":"tick","color":"#333","thickness":1.3,"size":12,"orient":"horizontal"},
    "encoding":{"x":{"field":"d","type":"nominal","title":"OKT3 (ng/ml)"},"xOffset":{"field":"g","type":"nominal"},"y":{"field":"hi","type":"quantitative","title":"% Cell loss"}}},
   {"data":{"name":"pt"},"transform":[{"filter":"datum.p==='C8'"}],"mark":{"type":"point","filled":true,"color":"#000","size":18,"opacity":1},
    "encoding":{"x":{"field":"d","type":"nominal","title":"OKT3 (ng/ml)"},"xOffset":{"field":"g","type":"nominal"},"y":{"field":"v","type":"quantitative","title":"% Cell loss"},"shape":{"field":"g","type":"nominal","scale":{"domain":["siNS","siFOXP3"],"range":["circle","square"]},"legend":null}}}
  ]}
],"columns":7,"spacing":0,"bounds":"flush","align":"each"},
{"resolve":{"scale":{"fill":"independent","stroke":"independent","shape":"independent","color":"independent"}},
 "concat":[
 {"width":8,"height":160,"data":{"values":[]},"mark":{"type":"point","opacity":0},"title":{"text":"D","anchor":"start","dx":-24,"fontSize":21,"offset":23}},
 {"width":164,"height":113,"view":{"stroke":"#555","strokeWidth":1},
  "encoding":{"x":{"field":"x","type":"quantitative","title":"TMRE   ───────────────────→","scale":{"type":"log","domain":[31.6,501187],"nice":false},"axis":{"values":[100,1000,10000,100000],"tickCount":20,"labelExpr":"'10' + ['⁰','¹','²','³','⁴','⁵','⁶'][round(log(datum.value)/LN10)]","labelFontSize":7,"labelFontWeight":"normal","labelColor":"#444","tickSize":3,"tickWidth":1,"domain":false,"titleFontSize":9,"titleAnchor":"start","titleAlign":"left","titleX":-2,"titleY":27,"titleBaseline":"alphabetic"}},
   "y":{"field":"y","type":"quantitative","title":null,"scale":{"domain":[0,475],"nice":false},"axis":{"values":[0,100,200,300,400],"tickCount":20,"labelFontSize":6,"labelFontWeight":"normal","labelColor":"#444","tickSize":3,"tickWidth":1,"domain":false}}},
  "layer":[
   {"data":{"name":"hist"},"transform":[{"filter":"datum.p==='D' && datum.g==='siFOXP3'"}],"mark":{"type":"area","fill":"#c6daf3","stroke":"#4a7fcf","strokeWidth":1.5,"interpolate":"monotone","opacity":1}},
   {"data":{"name":"hist"},"transform":[{"filter":"datum.p==='D' && datum.g==='siNS'"}],"mark":{"type":"line","color":"#000","strokeWidth":1.5,"interpolate":"monotone"}},
   {"data":{"values":[{}]},"mark":{"type":"rule","strokeDash":[4,3],"strokeWidth":1.5,"color":"#000"},"encoding":{"x":{"datum":9800,"type":"quantitative"},"y":null}},
   {"data":{"values":[{}]},"mark":{"type":"text","text":"TMREˡᵒ","align":"left","fontSize":9,"color":"#000"},"encoding":{"x":{"datum":50,"type":"quantitative"},"y":{"datum":433,"type":"quantitative"}}}
  ]},
 {"width":10,"height":1,"data":{"values":[]},"mark":{"type":"point","opacity":0}},
 {"width":18,"height":43,"data":{"name":"leg"},"mark":{"type":"point","shape":"square","size":289,"strokeWidth":2,"filled":true,"opacity":1},
  "encoding":{"y":{"field":"g","type":"nominal","scale":{"type":"band","domain":["siNS","siFOXP3"],"paddingInner":0,"paddingOuter":0},"axis":{"orient":"right","title":null,"domain":false,"ticks":false,"labelPadding":6,"labelFontWeight":"normal","labelFontSize":11.5}},
   "fill":{"field":"g","type":"nominal","scale":{"domain":["siNS","siFOXP3"],"range":["#ffffff","#c6daf3"]},"legend":null},
   "stroke":{"field":"g","type":"nominal","scale":{"domain":["siNS","siFOXP3"],"range":["#000000","#4a7fcf"]},"legend":null}}},
 {"width":114,"height":1,"data":{"values":[]},"mark":{"type":"point","opacity":0}},
 {"width":184,"height":122,"title":{"text":"TMREˡᵒ cells: CD4","fontSize":12,"offset":3.5},
  "layer":[
   {"data":{"name":"pair"},"transform":[{"filter":"datum.p==='D4'"}],"mark":{"type":"line","color":"#000","strokeWidth":1.5},
    "encoding":{"x":{"field":"g","type":"nominal","title":null,"scale":{"type":"point","domain":["siNS","siFOXP3"],"padding":0.68,"align":0.5},"axis":{"labelAngle":0,"labelFontSize":11,"labelPadding":3}},
     "y":{"field":"v","type":"quantitative","title":"% of TMREˡᵒ cells","scale":{"domain":[0,40],"nice":false},"axis":{"values":[0,10,20,30,40],"tickCount":20,"labelFontSize":10,"titleFontSize":10,"labelOverlap":false}},
     "detail":{"field":"id","type":"nominal"}}},
   {"data":{"name":"pair"},"transform":[{"filter":"datum.p==='D4' && datum.g==='siNS'"}],"mark":{"type":"point","filled":true,"shape":"circle","color":"#000","size":30,"opacity":1},
    "encoding":{"x":{"field":"g","type":"nominal","title":null},"y":{"field":"v","type":"quantitative","title":"% of TMREˡᵒ cells"}}},
   {"data":{"name":"pair"},"transform":[{"filter":"datum.p==='D4' && datum.g==='siFOXP3'"}],"mark":{"type":"point","filled":true,"shape":"square","color":"#7aa6e0","size":45,"opacity":1},
    "encoding":{"x":{"field":"g","type":"nominal","title":null},"y":{"field":"v","type":"quantitative","title":"% of TMREˡᵒ cells"}}},
   {"data":{"name":"st"},"transform":[{"filter":"datum.p==='D4'"}],"mark":{"type":"text","fontSize":10,"color":"#000"},
    "encoding":{"x":{"field":"g","type":"nominal","title":null},"y":{"field":"v","type":"quantitative","title":"% of TMREˡᵒ cells"},"text":{"field":"t","type":"nominal"}}}
  ]},
 {"width":87,"height":1,"data":{"values":[]},"mark":{"type":"point","opacity":0}},
 {"width":186,"height":122,"title":{"text":"TMREˡᵒ cells: CD8","fontSize":12,"offset":5.5},
  "layer":[
   {"data":{"name":"pair"},"transform":[{"filter":"datum.p==='D8'"}],"mark":{"type":"line","color":"#000","strokeWidth":1.5},
    "encoding":{"x":{"field":"g","type":"nominal","title":null,"scale":{"type":"point","domain":["siNS","siFOXP3"],"padding":0.69,"align":0.5},"axis":{"labelAngle":0,"labelFontSize":11,"labelPadding":3}},
     "y":{"field":"v","type":"quantitative","title":"% of TMREˡᵒ cells","scale":{"domain":[0,50],"nice":false},"axis":{"values":[0,10,20,30,40,50],"tickCount":20,"labelFontSize":10,"titleFontSize":10,"labelOverlap":false}},
     "detail":{"field":"id","type":"nominal"}}},
   {"data":{"name":"pair"},"transform":[{"filter":"datum.p==='D8' && datum.g==='siNS'"}],"mark":{"type":"point","filled":true,"shape":"circle","color":"#000","size":30,"opacity":1},
    "encoding":{"x":{"field":"g","type":"nominal","title":null},"y":{"field":"v","type":"quantitative","title":"% of TMREˡᵒ cells"}}},
   {"data":{"name":"pair"},"transform":[{"filter":"datum.p==='D8' && datum.g==='siFOXP3'"}],"mark":{"type":"point","filled":true,"shape":"square","color":"#7aa6e0","size":45,"opacity":1},
    "encoding":{"x":{"field":"g","type":"nominal","title":null},"y":{"field":"v","type":"quantitative","title":"% of TMREˡᵒ cells"}}},
   {"data":{"name":"st"},"transform":[{"filter":"datum.p==='D8'"}],"mark":{"type":"text","fontSize":10,"color":"#000"},
    "encoding":{"x":{"field":"g","type":"nominal","title":null},"y":{"field":"v","type":"quantitative","title":"% of TMREˡᵒ cells"},"text":{"field":"t","type":"nominal"}}}
  ]}
],"columns":8,"spacing":0,"bounds":"flush","align":"each"},
{"resolve":{"scale":{"fill":"independent","stroke":"independent","shape":"independent","color":"independent"}},
 "concat":[
 {"width":146,"height":109,"view":{"stroke":"#555","strokeWidth":1},"title":{"text":"E","anchor":"start","dx":-24,"fontSize":21,"offset":10},
  "encoding":{"x":{"field":"x","type":"quantitative","title":"Mitotracker   ──────────────→","scale":{"type":"log","domain":[72.4,1071519],"nice":false},"axis":{"values":[100,1000,10000,100000,1000000],"tickCount":20,"labelExpr":"'10' + ['⁰','¹','²','³','⁴','⁵','⁶'][round(log(datum.value)/LN10)]","labelFontSize":7,"labelFontWeight":"normal","labelColor":"#444","tickSize":3,"tickWidth":1,"domain":false,"titleFontSize":9,"titleAnchor":"start","titleAlign":"left","titleX":2,"titleY":24,"titleBaseline":"alphabetic"}},
   "y":{"field":"y","type":"quantitative","title":null,"scale":{"domain":[0,380],"nice":false},"axis":{"values":[0,100,200,300],"tickCount":20,"labels":false,"tickSize":3,"tickWidth":1,"domain":false}}},
  "layer":[
   {"data":{"name":"hist"},"transform":[{"filter":"datum.p==='E' && datum.g==='siFOXP3'"}],"mark":{"type":"area","fill":"#c6daf3","stroke":"#4a7fcf","strokeWidth":1.5,"interpolate":"monotone","opacity":1}},
   {"data":{"name":"hist"},"transform":[{"filter":"datum.p==='E' && datum.g==='siNS'"}],"mark":{"type":"line","color":"#000","strokeWidth":1.5,"interpolate":"monotone"}}
  ]},
 {"width":14,"height":1,"data":{"values":[]},"mark":{"type":"point","opacity":0}},
 {"width":17,"height":40,"data":{"name":"leg"},"mark":{"type":"point","shape":"square","size":256,"strokeWidth":2,"filled":true,"opacity":1},
  "encoding":{"y":{"field":"g","type":"nominal","scale":{"type":"band","domain":["siNS","siFOXP3"],"paddingInner":0,"paddingOuter":0},"axis":{"orient":"right","title":null,"domain":false,"ticks":false,"labelPadding":6,"labelFontWeight":"normal","labelFontSize":11.5}},
   "fill":{"field":"g","type":"nominal","scale":{"domain":["siNS","siFOXP3"],"range":["#ffffff","#c6daf3"]},"legend":null},
   "stroke":{"field":"g","type":"nominal","scale":{"domain":["siNS","siFOXP3"],"range":["#000000","#4a7fcf"]},"legend":null}}},
 {"width":133,"height":1,"data":{"values":[]},"mark":{"type":"point","opacity":0}},
 {"width":170,"height":118,"title":{"text":"Mitochondrial mass: CD4","fontSize":10.5,"offset":2},
  "layer":[
   {"data":{"name":"bar"},"transform":[{"filter":"datum.p==='E4'"}],"mark":{"type":"bar","stroke":"#000","strokeWidth":1.5},
    "encoding":{"x":{"field":"g","type":"nominal","title":null,"scale":{"domain":["siNS","siFOXP3"],"paddingInner":0.355,"paddingOuter":0.383,"align":0.5},"axis":{"labelAngle":0,"labelFontSize":11,"labelPadding":3}},
     "y":{"field":"m","type":"quantitative","title":"Mitotracker (MFI)","scale":{"domain":[0,400000],"range":[118,9],"nice":false},"axis":{"values":[0,100000,200000,300000,400000],"tickCount":20,"labelExpr":"format(datum.value, ',')","labelFontSize":9,"titleFontSize":9,"labelOverlap":false,"titlePadding":2}},
     "fill":{"field":"g","type":"nominal","scale":{"domain":["siNS","siFOXP3"],"range":["#ffffff","#a0a0a0"]},"legend":null}}},
   {"data":{"name":"bar"},"transform":[{"filter":"datum.p==='E4'"}],"mark":{"type":"rule","color":"#000","strokeWidth":1.2},
    "encoding":{"x":{"field":"g","type":"nominal","title":null},"y":{"field":"lo","type":"quantitative","title":"Mitotracker (MFI)"},"y2":{"field":"hi"}}},
   {"data":{"name":"bar"},"transform":[{"filter":"datum.p==='E4'"}],"mark":{"type":"tick","color":"#000","thickness":1.3,"size":20,"orient":"horizontal"},
    "encoding":{"x":{"field":"g","type":"nominal","title":null},"y":{"field":"lo","type":"quantitative","title":"Mitotracker (MFI)"}}},
   {"data":{"name":"bar"},"transform":[{"filter":"datum.p==='E4'"}],"mark":{"type":"tick","color":"#000","thickness":1.3,"size":20,"orient":"horizontal"},
    "encoding":{"x":{"field":"g","type":"nominal","title":null},"y":{"field":"hi","type":"quantitative","title":"Mitotracker (MFI)"}}},
   {"data":{"name":"pt"},"transform":[{"filter":"datum.p==='E4'"}],"mark":{"type":"point","filled":true,"color":"#000","size":20,"opacity":1},
    "encoding":{"x":{"field":"g","type":"nominal","title":null},"y":{"field":"v","type":"quantitative","title":"Mitotracker (MFI)"},"shape":{"field":"g","type":"nominal","scale":{"domain":["siNS","siFOXP3"],"range":["circle","square"]},"legend":null}}}
  ]},
 {"width":101,"height":1,"data":{"values":[]},"mark":{"type":"point","opacity":0}},
 {"width":174,"height":118,"title":{"text":"Mitochondrial mass: CD8","fontSize":10.5,"offset":2},
  "layer":[
   {"data":{"name":"bar"},"transform":[{"filter":"datum.p==='E8'"}],"mark":{"type":"bar","stroke":"#000","strokeWidth":1.5},
    "encoding":{"x":{"field":"g","type":"nominal","title":null,"scale":{"domain":["siNS","siFOXP3"],"paddingInner":0.343,"paddingOuter":0.414,"align":0.5},"axis":{"labelAngle":0,"labelFontSize":11,"labelPadding":3}},
     "y":{"field":"m","type":"quantitative","title":"Mitotracker (MFI)","scale":{"domain":[0,400000],"range":[118,9],"nice":false},"axis":{"values":[0,100000,200000,300000,400000],"tickCount":20,"labelExpr":"format(datum.value, ',')","labelFontSize":9,"titleFontSize":9,"labelOverlap":false,"titlePadding":2}},
     "fill":{"field":"g","type":"nominal","scale":{"domain":["siNS","siFOXP3"],"range":["#ffffff","#a0a0a0"]},"legend":null}}},
   {"data":{"name":"bar"},"transform":[{"filter":"datum.p==='E8'"}],"mark":{"type":"rule","color":"#000","strokeWidth":1.2},
    "encoding":{"x":{"field":"g","type":"nominal","title":null},"y":{"field":"lo","type":"quantitative","title":"Mitotracker (MFI)"},"y2":{"field":"hi"}}},
   {"data":{"name":"bar"},"transform":[{"filter":"datum.p==='E8'"}],"mark":{"type":"tick","color":"#000","thickness":1.3,"size":20,"orient":"horizontal"},
    "encoding":{"x":{"field":"g","type":"nominal","title":null},"y":{"field":"lo","type":"quantitative","title":"Mitotracker (MFI)"}}},
   {"data":{"name":"bar"},"transform":[{"filter":"datum.p==='E8'"}],"mark":{"type":"tick","color":"#000","thickness":1.3,"size":20,"orient":"horizontal"},
    "encoding":{"x":{"field":"g","type":"nominal","title":null},"y":{"field":"hi","type":"quantitative","title":"Mitotracker (MFI)"}}},
   {"data":{"name":"pt"},"transform":[{"filter":"datum.p==='E8'"}],"mark":{"type":"point","filled":true,"color":"#000","size":20,"opacity":1},
    "encoding":{"x":{"field":"g","type":"nominal","title":null},"y":{"field":"v","type":"quantitative","title":"Mitotracker (MFI)"},"shape":{"field":"g","type":"nominal","scale":{"domain":["siNS","siFOXP3"],"range":["circle","square"]},"legend":null}}}
  ]}
],"columns":7,"spacing":0,"bounds":"flush","align":"each"}
],
"columns":1,"spacing":0,"bounds":"full","align":"each"
}
